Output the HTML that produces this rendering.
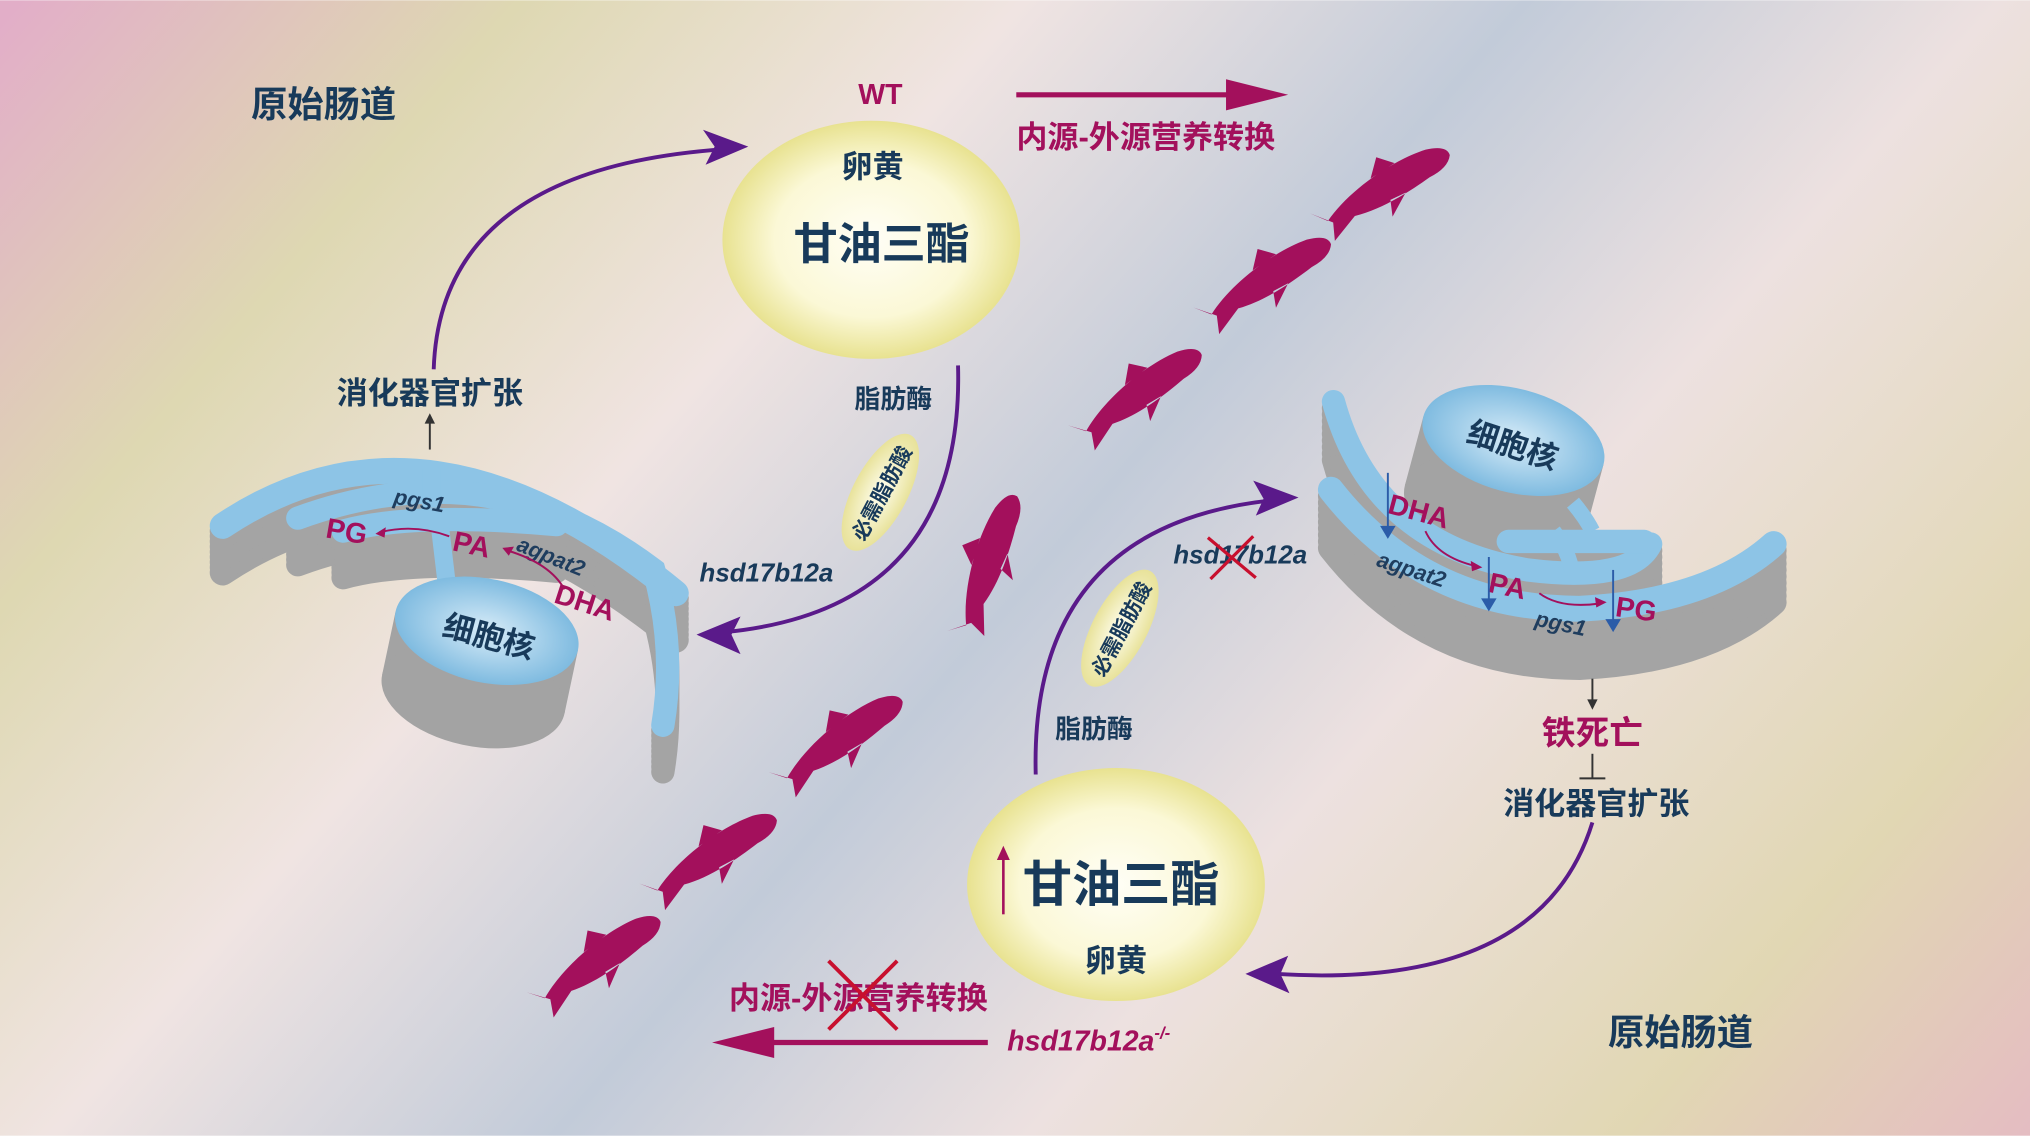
<!DOCTYPE html>
<html><head><meta charset="utf-8"><style>
html,body{margin:0;padding:0;width:2030px;height:1136px;overflow:hidden}
svg{display:block}
text{font-family:"Liberation Sans","Noto Sans CJK SC",sans-serif;font-weight:bold}
</style></head><body>
<svg width="2030" height="1136" viewBox="0 0 1568 877" xmlns="http://www.w3.org/2000/svg">
<defs>
<linearGradient id="bg" gradientUnits="userSpaceOnUse" x1="100" y1="-100" x2="1500" y2="1100">
<stop offset="0" stop-color="#e2aec8"/><stop offset="0.16" stop-color="#ded8b2"/><stop offset="0.32" stop-color="#f0e4e2"/>
<stop offset="0.48" stop-color="#c2cbd9"/><stop offset="0.63" stop-color="#ede1e0"/><stop offset="0.82" stop-color="#e1d7b3"/><stop offset="1" stop-color="#e6b2c8"/>
</linearGradient>
<radialGradient id="yolk"><stop offset="0" stop-color="#fffef6"/><stop offset="0.65" stop-color="#fbf8d6"/><stop offset="1" stop-color="#e8e290"/></radialGradient>
<radialGradient id="nuc"><stop offset="0" stop-color="#d8ecf8"/><stop offset="1" stop-color="#7fbbe0"/></radialGradient>
<radialGradient id="oil"><stop offset="0" stop-color="#fffef0"/><stop offset="1" stop-color="#e8e29a"/></radialGradient>
<g id="fish"><path d="M-5,0 C20,-12 60,-16 88,-10 Q104,-5 102,3 Q96,11 80,10 C60,12 35,13 15,7 L-8,16 L-2,3 L-14,-12 Z M40,-12 L52,-24 L62,-13 Z M45,10 L40,22 L58,11 Z" fill="#a3105c"/></g>
<g id="Lp" fill="none" stroke-linecap="round">
<path d="M172,406 Q330,300 522,458" stroke-width="20"/>
<path d="M230,400 Q380,345 505,440 Q522,500 512,560" stroke-width="18"/>
<path d="M265,410 Q320,395 430,405" stroke-width="18"/>
</g>
<g id="Rp" fill="none" stroke-linecap="round">
<path d="M1030,310 Q1060,420 1180,440 Q1260,450 1275,420" stroke-width="18"/>
<path d="M1028,378 Q1100,470 1220,470 Q1320,465 1370,420" stroke-width="20"/>
<path d="M1165,418 L1270,418" stroke-width="18"/>
</g>
</defs>
<rect width="1568" height="877" fill="url(#bg)"/>

<use href="#fish" transform="translate(1030,168) rotate(-30)"/>
<use href="#fish" transform="translate(940,240) rotate(-32)"/>
<use href="#fish" transform="translate(843,330) rotate(-35)"/>
<use href="#fish" transform="translate(748,478) rotate(-70)"/>
<use href="#fish" transform="translate(612,598) rotate(-35)"/>
<use href="#fish" transform="translate(512,685) rotate(-32)"/>
<use href="#fish" transform="translate(425,768) rotate(-35)"/>

<!-- left organelle -->
<g stroke="#a4a4a4">
<use href="#Lp" y="36"/><use href="#Lp" y="32"/><use href="#Lp" y="28"/><use href="#Lp" y="24"/><use href="#Lp" y="20"/><use href="#Lp" y="16"/><use href="#Lp" y="12"/><use href="#Lp" y="8"/><use href="#Lp" y="4"/>
</g>
<g stroke="#8dc4e6"><use href="#Lp"/></g>
<path d="M333,362 L333,392 M340,408 L345,450" stroke="#8dc4e6" stroke-width="14" fill="none"/>
<g transform="rotate(12 376 487)">
<rect x="304" y="487" width="144" height="50" fill="#a3a3a3"/>
<ellipse cx="376" cy="537" rx="72" ry="40" fill="#a3a3a3"/>
<ellipse cx="376" cy="487" rx="72" ry="40" fill="url(#nuc)"/>
</g>
<text x="378" y="500" font-size="24" fill="#183a5a" text-anchor="middle" transform="rotate(15 378 490)">细胞核</text>
<text x="304" y="393" font-size="17" fill="#1f3d5e" font-style="italic" font-weight="normal" transform="rotate(10 328 388)">pgs1</text>
<text x="400" y="425" font-size="17" fill="#1f3d5e" font-style="italic" font-weight="normal" transform="rotate(22 400 420)">agpat2</text>
<text x="252" y="418" font-size="22" fill="#a3105c" transform="rotate(10 270 410)">PG</text>
<text x="350" y="428" font-size="22" fill="#a3105c" transform="rotate(12 365 420)">PA</text>
<text x="428" y="472" font-size="22" fill="#a3105c" transform="rotate(18 450 465)">DHA</text>
<path d="M347,414 Q320,404 293,411" fill="none" stroke="#a3105c" stroke-width="1.5"/><path d="M290,412 l8,-5 l-1,8 z" fill="#a3105c"/>
<path d="M436,455 Q425,435 392,425" fill="none" stroke="#a3105c" stroke-width="1.5"/><path d="M388,423 l9,-1 l-4,7 z" fill="#a3105c"/>

<!-- right organelle -->
<g stroke="#a4a4a4">
<use href="#Rp" y="45"/><use href="#Rp" y="40"/><use href="#Rp" y="35"/><use href="#Rp" y="30"/><use href="#Rp" y="25"/><use href="#Rp" y="20"/><use href="#Rp" y="15"/><use href="#Rp" y="10"/><use href="#Rp" y="5"/>
</g>
<g transform="rotate(15 1169 340)">
<rect x="1097" y="340" width="144" height="55" fill="#a3a3a3"/>
<ellipse cx="1169" cy="395" rx="72" ry="40" fill="#a3a3a3"/>
<ellipse cx="1169" cy="340" rx="72" ry="40" fill="url(#nuc)"/>
</g>
<g stroke="#8dc4e6"><use href="#Rp"/></g>
<path d="M1200,410 Q1215,430 1215,450 M1215,388 Q1225,400 1230,410" stroke="#8dc4e6" stroke-width="12" fill="none"/>
<text x="1168" y="352" font-size="24" fill="#183a5a" text-anchor="middle" transform="rotate(18 1168 345)">细胞核</text>
<text x="1072" y="402" font-size="22" fill="#a3105c" transform="rotate(15 1095 395)">DHA</text>
<text x="1150" y="460" font-size="22" fill="#a3105c" transform="rotate(12 1165 452)">PA</text>
<text x="1248" y="478" font-size="22" fill="#a3105c" transform="rotate(8 1265 470)">PG</text>
<text x="1064" y="437" font-size="17" fill="#1f3d5e" font-style="italic" font-weight="normal" transform="rotate(18 1064 432)">agpat2</text>
<text x="1186" y="483" font-size="17" fill="#1f3d5e" font-style="italic" font-weight="normal" transform="rotate(12 1186 478)">pgs1</text>
<g stroke="#2b5ca8" stroke-width="1.5"><line x1="1072" y1="365" x2="1072" y2="410"/><line x1="1150" y1="430" x2="1150" y2="470"/><line x1="1246" y1="440" x2="1246" y2="485"/></g>
<g fill="#2b5ca8"><path d="M1066,406 h12 l-6,10 z"/><path d="M1144,462 h12 l-6,10 z"/><path d="M1240,478 h12 l-6,10 z"/></g>
<path d="M1101,410 Q1110,430 1140,437" fill="none" stroke="#a3105c" stroke-width="1.5"/><path d="M1145,438 l-9,-5 l1,8 z" fill="#a3105c"/>
<path d="M1189,458 Q1205,470 1235,466" fill="none" stroke="#a3105c" stroke-width="1.5"/><path d="M1241,465 l-9,-4 l1,8 z" fill="#a3105c"/>

<!-- yolks -->
<ellipse cx="673" cy="185" rx="115" ry="92" fill="url(#yolk)"/>
<ellipse cx="862" cy="683" rx="115" ry="90" fill="url(#yolk)"/>
<text x="674" y="137" font-size="24" fill="#183a5a" text-anchor="middle">卵黄</text>
<text x="681" y="200" font-size="34" fill="#183a5a" text-anchor="middle">甘油三酯</text>
<text x="866" y="696" font-size="38" fill="#183a5a" text-anchor="middle">甘油三酯</text>
<text x="862" y="750" font-size="24" fill="#183a5a" text-anchor="middle">卵黄</text>
<line x1="775" y1="706" x2="775" y2="662" stroke="#a3105c" stroke-width="2"/><path d="M770,664 l5,-11 l5,11 z" fill="#a3105c"/>

<ellipse cx="680" cy="380" rx="50" ry="21" fill="url(#oil)" transform="rotate(-62 680 380)"/>
<text x="680" y="387" font-size="16" fill="#183a5a" text-anchor="middle" transform="rotate(-62 680 380)">必需脂肪酸</text>
<ellipse cx="865" cy="485" rx="50" ry="21" fill="url(#oil)" transform="rotate(-62 865 485)"/>
<text x="865" y="492" font-size="16" fill="#183a5a" text-anchor="middle" transform="rotate(-62 865 485)">必需脂肪酸</text>

<g fill="none" stroke="#5a1a8a" stroke-width="3">
<path d="M335,285 Q340,130 560,115"/>
<path d="M740,282 Q745,470 560,488"/>
<path d="M800,598 Q795,405 985,386"/>
<path d="M1230,635 Q1190,765 985,752"/>
</g>
<path d="M578,113 L545,127 L552,113 L543,100 Z" fill="#5a1a8a"/>
<path d="M538,490 L572,476 L565,490 L572,505 Z" fill="#5a1a8a"/>
<path d="M1003,384 L970,398 L976,385 L968,371 Z" fill="#5a1a8a"/>
<path d="M962,752 L995,738 L989,752 L996,767 Z" fill="#5a1a8a"/>

<text x="250" y="90" font-size="28" fill="#183a5a" text-anchor="middle">原始肠道</text>
<text x="1298" y="807" font-size="28" fill="#183a5a" text-anchor="middle">原始肠道</text>
<text x="680" y="80" font-size="22" fill="#a3105c" text-anchor="middle">WT</text>
<line x1="785" y1="73" x2="955" y2="73" stroke="#a3105c" stroke-width="4"/><path d="M995,73 L947,61 L947,85 Z" fill="#a3105c"/>
<text x="885" y="114" font-size="24" fill="#a3105c" text-anchor="middle">内源-外源营养转换</text>
<text x="332" y="312" font-size="24" fill="#183a5a" text-anchor="middle">消化器官扩张</text>
<line x1="332" y1="347" x2="332" y2="325" stroke="#333" stroke-width="1.5"/><path d="M328,327 l4,-8 l4,8 z" fill="#333"/>
<text x="690" y="315" font-size="20" fill="#183a5a" text-anchor="middle">脂肪酶</text>
<text x="592" y="449" font-size="20" fill="#183a5a" font-style="italic" text-anchor="middle">hsd17b12a</text>
<text x="958" y="435" font-size="20" fill="#183a5a" font-style="italic" text-anchor="middle">hsd17b12a</text>
<path d="M933,415 L970,446 M968,414 L935,447" stroke="#c8102e" stroke-width="2.5"/>
<text x="845" y="570" font-size="20" fill="#183a5a" text-anchor="middle">脂肪酶</text>
<line x1="1230" y1="524" x2="1230" y2="542" stroke="#333" stroke-width="1.5"/><path d="M1226,540 l4,8 l4,-8 z" fill="#333"/>
<text x="1230" y="575" font-size="26" fill="#a3105c" text-anchor="middle">铁死亡</text>
<line x1="1230" y1="582" x2="1230" y2="601" stroke="#333" stroke-width="1.5"/><line x1="1220" y1="601" x2="1240" y2="601" stroke="#333" stroke-width="1.5"/>
<text x="1233" y="629" font-size="24" fill="#183a5a" text-anchor="middle">消化器官扩张</text>
<text x="663" y="779" font-size="24" fill="#a3105c" text-anchor="middle">内源-外源营养转换</text>
<path d="M640,742 L693,795 M693,742 L640,795" stroke="#c8102e" stroke-width="3"/>
<line x1="590" y1="805" x2="763" y2="805" stroke="#a3105c" stroke-width="4"/><path d="M550,805 L598,793 L598,817 Z" fill="#a3105c"/>
<text x="778" y="811" font-size="22" fill="#a3105c" font-style="italic">hsd17b12a<tspan font-size="13" dy="-9">-/-</tspan></text>
</svg>
</body></html>
